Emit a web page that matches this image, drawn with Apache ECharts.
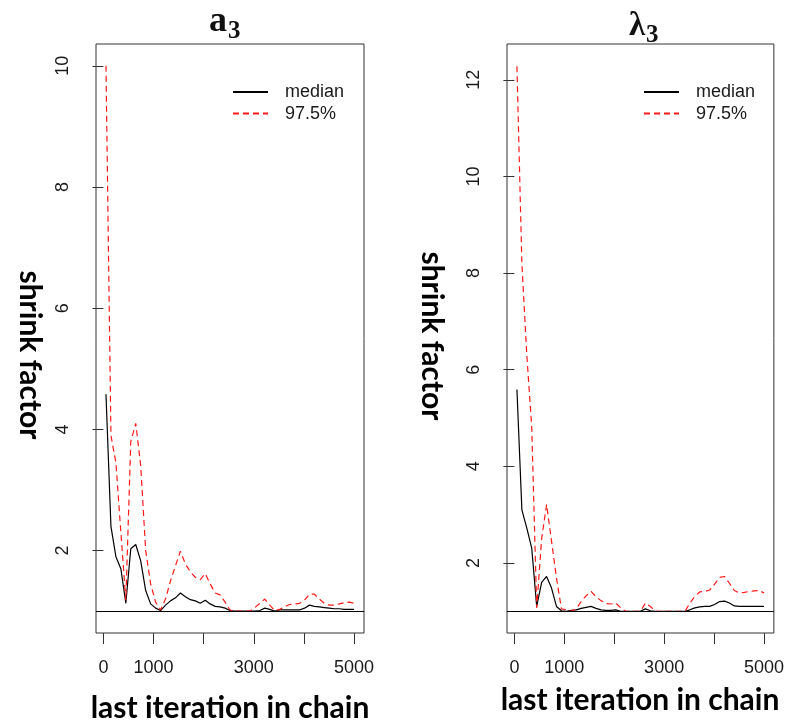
<!DOCTYPE html>
<html>
<head>
<meta charset="utf-8">
<script src="https://cdn.jsdelivr.net/npm/echarts@6/dist/echarts.min.js"></script>
<style>
  html, body { margin: 0; padding: 0; background: #ffffff; }
  #chart { width: 787px; height: 723px; }
</style>
</head>
<body>
<div id="chart"></div>
<script>
// Last iteration of each bin used for the shrink-factor estimate
const iterations = [51, 150, 249, 348, 447, 546, 645, 744, 843, 942,
  1041, 1140, 1239, 1338, 1437, 1536, 1635, 1734, 1833, 1932,
  2031, 2130, 2229, 2328, 2427, 2526, 2625, 2724, 2823, 2922,
  3021, 3120, 3219, 3318, 3417, 3516, 3615, 3714, 3813, 3912,
  4011, 4110, 4209, 4308, 4407, 4506, 4605, 4704, 4803, 4902, 5000];

// a3: median and 97.5% shrink factor
const a3Median = [4.58, 2.40, 1.90, 1.70, 1.13, 2.03, 2.10, 1.83, 1.34, 1.12,
  1.05, 1.01, 1.10, 1.17, 1.22, 1.30, 1.24, 1.19, 1.17, 1.13,
  1.18, 1.12, 1.08, 1.07, 1.05, 1.01, 1.00, 1.00, 1.00, 1.00,
  1.00, 1.01, 1.05, 1.03, 1.00, 1.02, 1.02, 1.02, 1.02, 1.02,
  1.05, 1.10, 1.08, 1.07, 1.06, 1.05, 1.04, 1.04, 1.03, 1.03, 1.03];
const a3Upper = [10.0, 3.90, 3.45, 2.30, 1.18, 3.80, 4.10, 3.40, 2.00, 1.45,
  1.15, 1.02, 1.20, 1.50, 1.75, 1.99, 1.78, 1.65, 1.56, 1.52,
  1.62, 1.45, 1.30, 1.27, 1.15, 1.02, 1.00, 1.00, 1.00, 1.00,
  1.06, 1.13, 1.20, 1.10, 1.01, 1.03, 1.07, 1.11, 1.12, 1.13,
  1.18, 1.28, 1.28, 1.20, 1.13, 1.10, 1.10, 1.12, 1.14, 1.15, 1.13];

// lambda3: median and 97.5% shrink factor
const lambda3Median = [5.59, 3.10, 2.72, 2.30, 1.10, 1.60, 1.72, 1.48, 1.10, 1.01,
  1.00, 1.02, 1.03, 1.06, 1.08, 1.10, 1.06, 1.03, 1.02, 1.02,
  1.03, 1.00, 1.00, 1.00, 1.00, 1.00, 1.05, 1.01, 1.00, 1.00,
  1.00, 1.00, 1.00, 1.00, 1.00, 1.03, 1.07, 1.09, 1.10, 1.10,
  1.14, 1.20, 1.21, 1.17, 1.11, 1.10, 1.10, 1.10, 1.10, 1.10, 1.10];
const lambda3Upper = [12.28, 8.20, 6.30, 4.80, 1.07, 2.50, 3.21, 2.45, 1.69, 1.05,
  1.03, 1.00, 1.05, 1.20, 1.32, 1.41, 1.30, 1.22, 1.16, 1.15,
  1.17, 1.07, 1.00, 1.00, 1.00, 1.00, 1.17, 1.10, 1.00, 1.00,
  1.00, 1.00, 1.00, 1.00, 1.00, 1.17, 1.31, 1.40, 1.41, 1.44,
  1.56, 1.70, 1.72, 1.58, 1.43, 1.38, 1.39, 1.41, 1.42, 1.43, 1.38];

// Axis ticks and labels
const xTicks = [0, 1000, 2000, 3000, 4000, 5000];
const xLabels = [0, 1000, 3000, 5000];
const a3YTicks = [2, 4, 6, 8, 10];
const lambda3YTicks = [2, 4, 6, 8, 10, 12];
const referenceLevel = 1;
const seriesNames = ['median', '97.5%'];

const chart = echarts.init(document.getElementById('chart'), null, { renderer: 'canvas' });

const axisColor = '#333';
const tickFont = 'Liberation Sans, Arial, sans-serif';
const boldSans = 'Lato, "Open Sans", sans-serif';
const serif = '"Liberation Serif", "DejaVu Serif", serif';

function pair(values) {
  return iterations.map((it, i) => [it, values[i]]);
}

function plainNumber(v) {
  return String(v);
}

function xAxisFor(gridIndex) {
  return {
    type: 'value', gridIndex: gridIndex, min: -148, max: 5198,
    splitLine: { show: false },
    axisLine: { show: false },
    axisTick: { show: true, length: 11, customValues: xTicks, lineStyle: { color: axisColor, width: 1 } },
    axisLabel: { customValues: xLabels, formatter: plainNumber, margin: 26, fontSize: 18, fontFamily: tickFont, color: '#1a1a1a' }
  };
}

function yAxisFor(gridIndex, min, max, ticks) {
  return {
    type: 'value', gridIndex: gridIndex, min: min, max: max,
    splitLine: { show: false },
    axisLine: { show: false },
    axisTick: { show: true, length: 11, customValues: ticks, lineStyle: { color: axisColor, width: 1 } },
    axisLabel: { customValues: ticks, formatter: plainNumber, rotate: 90, margin: 24, fontSize: 18, fontFamily: tickFont, color: '#1a1a1a' }
  };
}

function seriesFor(idx, median, upper) {
  return [
    {
      name: seriesNames[0], type: 'line', xAxisIndex: idx, yAxisIndex: idx,
      data: pair(median), symbol: 'none', smooth: false,
      lineStyle: { color: '#000000', width: 1.2 },
      itemStyle: { color: '#000000' },
      markLine: {
        silent: true, symbol: 'none', label: { show: false },
        lineStyle: { color: '#000000', type: 'solid', width: 1 },
        data: [{ yAxis: referenceLevel }]
      }
    },
    {
      name: seriesNames[1], type: 'line', xAxisIndex: idx, yAxisIndex: idx,
      data: pair(upper), symbol: 'none', smooth: false,
      lineStyle: { color: '#ff1a1a', width: 1.2, type: [6, 4] },
      itemStyle: { color: '#ff1a1a' }
    }
  ];
}

function legendAt(left) {
  return {
    left: left, top: 83, orient: 'vertical', padding: 0,
    itemWidth: 35, itemHeight: 14, itemGap: 3.6,
    itemStyle: { opacity: 0 },
    textStyle: { fontSize: 18, lineHeight: 18, fontFamily: tickFont, color: '#1a1a1a', padding: [0, 0, 0, 12] },
    data: seriesNames
  };
}

function titleText(x, y, text, size, family) {
  return {
    type: 'text', x: x, y: y,
    style: { text: text, font: 'bold ' + size + 'px ' + family, fill: '#111', textAlign: 'left', textVerticalAlign: 'bottom' }
  };
}

function axisTitle(x, y, text, rotation) {
  return {
    type: 'text', x: x, y: y, rotation: rotation || 0,
    style: { text: text, font: 'bold 30px ' + boldSans, fill: '#000', textAlign: 'center', textVerticalAlign: 'middle' }
  };
}

chart.setOption({
  animation: false,
  backgroundColor: '#ffffff',
  grid: [
    { left: 96, top: 44, width: 268, height: 589, show: true, borderColor: axisColor, borderWidth: 1, backgroundColor: 'transparent' },
    { left: 507, top: 44, width: 268, height: 589, show: true, borderColor: axisColor, borderWidth: 1, backgroundColor: 'transparent' }
  ],
  xAxis: [xAxisFor(0), xAxisFor(1)],
  yAxis: [yAxisFor(0, 0.64, 10.36, a3YTicks), yAxisFor(1, 0.55, 12.74, lambda3YTicks)],
  legend: [legendAt(232), legendAt(643)],
  series: seriesFor(0, a3Median, a3Upper).concat(seriesFor(1, lambda3Median, lambda3Upper)),
  graphic: [
    titleText(209, 40, 'a', 36, serif),
    titleText(228, 44, '3', 25, serif),
    titleText(629, 43, 'λ', 33, serif),
    titleText(646, 48, '3', 25, serif),
    axisTitle(230, 708, 'last iteration in chain'),
    axisTitle(640, 700, 'last iteration in chain'),
    axisTitle(30, 355, 'shrink factor', -Math.PI / 2),
    axisTitle(432, 336, 'shrink factor', -Math.PI / 2)
  ]
});
</script>
</body>
</html>
